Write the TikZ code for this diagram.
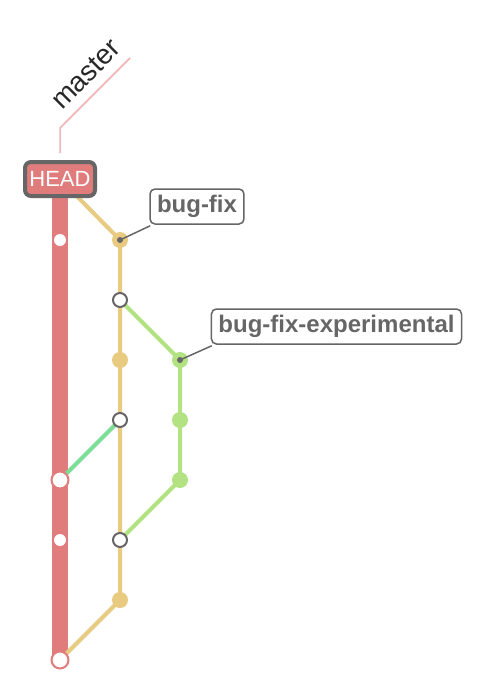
\documentclass[tikz,border=0pt]{standalone}
\usepackage{fontspec}
\setmainfont{Liberation Sans}
\usetikzlibrary{backgrounds}
\definecolor{masterred}{RGB}{224,124,124}
\definecolor{pinkline}{RGB}{240,180,182}
\definecolor{bfyellow}{RGB}{232,202,128}
\definecolor{bfgreen}{RGB}{178,226,130}
\definecolor{mergeteal}{RGB}{125,220,150}
\definecolor{darkgray}{RGB}{102,102,102}
\definecolor{textdark}{RGB}{40,40,40}
\tikzset{
  smallwhite/.style={circle,fill=white,inner sep=0pt,minimum size=12},
  mastercommit/.style={circle,fill=white,draw=masterred,line width=2,inner sep=0pt,minimum size=17},
  hollow/.style={circle,fill=white,draw=darkgray,line width=2,inner sep=0pt,minimum size=14},
  yfill/.style={circle,fill=bfyellow,inner sep=0pt,minimum size=16},
  gfill/.style={circle,fill=bfgreen,inner sep=0pt,minimum size=16},
  pdot/.style={circle,fill=darkgray,inner sep=0pt,minimum size=6},
  branchlbl/.style={draw=darkgray,line width=1.5,rounded corners=5,fill=white,text=darkgray,
    font=\fontsize{24}{27}\selectfont\bfseries,minimum height=35,inner xsep=7,inner ysep=0},
  ptr/.style={draw=darkgray,line width=1.5},
  yline/.style={draw=bfyellow,line width=4},
  gline/.style={draw=bfgreen,line width=4},
}
\begin{document}
\begin{tikzpicture}[x=1pt,y=-1pt]
\useasboundingbox (0,0) rectangle (484,696);
% HEAD
\node[draw=darkgray,line width=4,fill=masterred,rounded corners=6,text=white,
  minimum width=70,minimum height=34,inner sep=0,font=\fontsize{22}{25}\selectfont] (head) at (60,179) {HEAD};
% master commits
\node[smallwhite] (m1) at (60,240) {};
\node[mastercommit] (m2) at (60,480) {};
\node[smallwhite] (m3) at (60,540) {};
\node[mastercommit] (m4) at (60,660) {};
% bug-fix commits
\node[yfill] (y1) at (120,240) {};
\node[pdot] (y1d) at (120,240) {};
\node[hollow] (y2) at (120,300) {};
\node[yfill] (y3) at (120,360) {};
\node[hollow] (y4) at (120,420) {};
\node[hollow] (y5) at (120,540) {};
\node[yfill] (y6) at (120,600) {};
% experimental commits
\node[gfill] (g1) at (180,360) {};
\node[pdot] (g1d) at (180,360) {};
\node[gfill] (g2) at (180,420) {};
\node[gfill] (g3) at (180,480) {};
% labels
\node[branchlbl] (lbf) at (197,206.5) {bug-fix};
\node[branchlbl] (lbfe) at (336.5,326.5) {bug-fix-experimental};
\draw[ptr] (y1d.center) -- ([xshift=1,yshift=-1]lbf.south west);
\draw[ptr] (g1d.center) -- ([xshift=1,yshift=-1]lbfe.south west);
% master label
\coordinate (mbase) at (60,153);
\coordinate (mbend) at (60,128);
\coordinate (mtop) at (130,58);
\node[rotate=45,text=textdark,font=\fontsize{28}{30}\selectfont,inner sep=0] (mlbl) at (86,74) {master};
\draw[pinkline,line width=1.5] (mbase) -- (mbend) -- (mtop);
\begin{scope}[on background layer]
  \fill[white] (0,0) rectangle (484,696);
  \draw[masterred,line width=16] (head.center) -- (m4.center);
  \draw[yline] (head.center) -- (y1.center) -- (y6.center) -- (m4.center);
  \draw[gline] (y2.center) -- (g1.center) -- (g3.center) -- (y5.center);
  \draw[mergeteal,line width=4] (y4.center) -- (m2.center);
\end{scope}
\end{tikzpicture}
\end{document}
